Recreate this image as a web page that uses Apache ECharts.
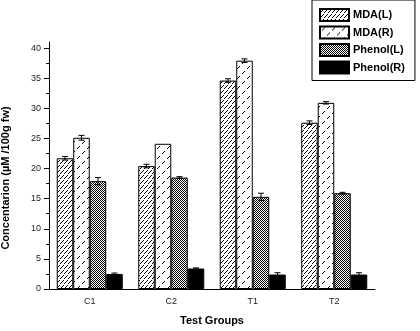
<!DOCTYPE html>
<html>
<head>
<meta charset="utf-8">
<script src="https://cdn.jsdelivr.net/npm/echarts@6/dist/echarts.min.js"></script>
<style>
  html, body { margin: 0; padding: 0; background: #fff; }
  #chart { width: 420px; height: 331px; }
</style>
</head>
<body>
<div id="chart"></div>
<script>
// data
const groups = ['C1', 'C2', 'T1', 'T2']
const seriesNames = ['MDA(L)', 'MDA(R)', 'Phenol(L)', 'Phenol(R)']
const mdaL = [21.7, 20.4, 34.6, 27.6]
const mdaR = [25.1, 24.1, 37.9, 30.9]
const phenolL = [17.9, 18.5, 15.3, 15.9]
const phenolR = [2.5, 3.4, 2.4, 2.4]
const mdaLErr = [0.3, 0.3, 0.3, 0.3]
const mdaRErr = [0.4, 0, 0.3, 0.2]
const phenolLErr = [0.6, 0.15, 0.6, 0.15]
const phenolRErr = [0.15, 0.1, 0.3, 0.3]
const yTicks = [0, 5, 10, 15, 20, 25, 30, 35, 40]
const yMinorTicks = [2.5, 7.5, 12.5, 17.5, 22.5, 27.5, 32.5, 37.5]

const values = [mdaL, mdaR, phenolL, phenolR]
const errors = [mdaLErr, mdaRErr, phenolLErr, phenolRErr]
const catGap = 0.19

// fill patterns for the bars
const makeTile = (w, h, draw) => {
  const c = document.createElement('canvas')
  c.width = w
  c.height = h
  const ctx = c.getContext('2d')
  ctx.fillStyle = '#fff'
  ctx.fillRect(0, 0, w, h)
  ctx.fillStyle = '#000'
  draw(ctx)
  return { image: c, repeat: 'repeat' }
}

const patterns = [
  // dense diagonal hatching
  makeTile(4, 5, ctx => {
    ctx.fillRect(3, 0, 1, 1)
    ctx.fillRect(2, 1, 1, 1)
    ctx.fillRect(1, 2, 1, 1)
    ctx.fillRect(0, 3, 1, 1)
  }),
  // sparse diagonal dashes
  makeTile(10, 10, ctx => {
    ctx.fillRect(4, 1, 1, 1)
    ctx.fillRect(3, 2, 1, 1)
    ctx.fillRect(2, 3, 1, 1)
    ctx.fillRect(9, 6, 1, 1)
    ctx.fillRect(8, 7, 1, 1)
    ctx.fillRect(7, 8, 1, 1)
  }),
  // checker dots
  makeTile(2, 2, ctx => {
    ctx.fillRect(0, 0, 1, 1)
    ctx.fillRect(1, 1, 1, 1)
  }),
  '#000'
]

const chart = echarts.init(document.getElementById('chart'))

const barSeries = seriesNames.map((name, i) => ({
  name,
  type: 'bar',
  barGap: 0,
  barCategoryGap: (catGap * 100) + '%',
  data: values[i],
  itemStyle: { color: patterns[i], borderColor: '#000', borderWidth: 1 },
  emphasis: { disabled: true }
}))

// error bars, placed over each bar
const errData = []
values.forEach((vals, s) => {
  vals.forEach((v, g) => {
    if (errors[s][g] > 0) errData.push([g, v, errors[s][g], s])
  })
})

const errSeries = {
  type: 'custom',
  silent: true,
  data: errData,
  z: 5,
  renderItem: (params, api) => {
    const g = api.value(0)
    const v = api.value(1)
    const e = api.value(2)
    const s = api.value(3)
    const band = api.size([1, 0])[0]
    const groupW = band * (1 - catGap)
    const barW = groupW / 4
    const cx = api.coord([g, v])[0] - groupW / 2 + barW * (s + 0.5)
    const yHi = api.coord([g, v + e])[1]
    const yLo = api.coord([g, v - e])[1]
    const cap = 3
    const st = { stroke: '#000', lineWidth: 1 }
    return {
      type: 'group',
      children: [
        { type: 'line', shape: { x1: cx, y1: yHi, x2: cx, y2: yLo }, style: st },
        { type: 'line', shape: { x1: cx - cap, y1: yHi, x2: cx + cap, y2: yHi }, style: st },
        { type: 'line', shape: { x1: cx - cap, y1: yLo, x2: cx + cap, y2: yLo }, style: st }
      ]
    }
  }
}

const option = {
  animation: false,
  backgroundColor: '#fff',
  textStyle: { fontFamily: 'Liberation Sans, Arial, sans-serif' },
  grid: { left: 49, right: 45, top: 42, bottom: 39 },
  legend: {
    data: seriesNames,
    orient: 'vertical',
    left: 312,
    top: 0,
    padding: [8, 10, 6, 7],
    itemWidth: 29,
    itemHeight: 12,
    itemGap: 3.5,
    borderColor: '#000',
    borderWidth: 1,
    icon: 'rect',
    selectedMode: false,
    textStyle: { fontSize: 11, fontWeight: 'bold', color: '#000', padding: [0, 0, 0, -1] }
  },
  // y axis title placed by hand to sit where the original has it
  graphic: [{
    type: 'text',
    x: 6,
    y: 178,
    rotation: Math.PI / 2,
    style: {
      text: 'Concentarion (\u00b5M /100g fw)',
      font: 'bold 11px Liberation Sans, Arial, sans-serif',
      fill: '#000',
      align: 'center',
      verticalAlign: 'middle'
    }
  }],
  xAxis: {
    type: 'category',
    data: groups,
    name: 'Test Groups',
    nameLocation: 'middle',
    nameGap: 26,
    nameTextStyle: { fontSize: 11, fontWeight: 'bold', color: '#000' },
    axisLine: { lineStyle: { color: '#000', width: 1 } },
    axisTick: { alignWithLabel: true, length: 4, lineStyle: { color: '#000' } },
    axisLabel: { fontSize: 9, color: '#222', margin: 8 }
  },
  yAxis: [
    {
      type: 'value',
      min: 0,
      max: 41,
      axisLine: { show: true, lineStyle: { color: '#000', width: 1 } },
      axisTick: { show: true, length: 5, customValues: yTicks, lineStyle: { color: '#000' } },
      axisLabel: { fontSize: 9, color: '#222', margin: 8, customValues: yTicks },
      splitLine: { show: false }
    },
    {
      type: 'value',
      position: 'left',
      min: 0,
      max: 41,
      axisLine: { show: false },
      axisTick: { show: true, length: 3, customValues: yMinorTicks, lineStyle: { color: '#000' } },
      axisLabel: { show: false },
      splitLine: { show: false }
    }
  ],
  series: [...barSeries, errSeries]
}

chart.setOption(option)
</script>
</body>
</html>
